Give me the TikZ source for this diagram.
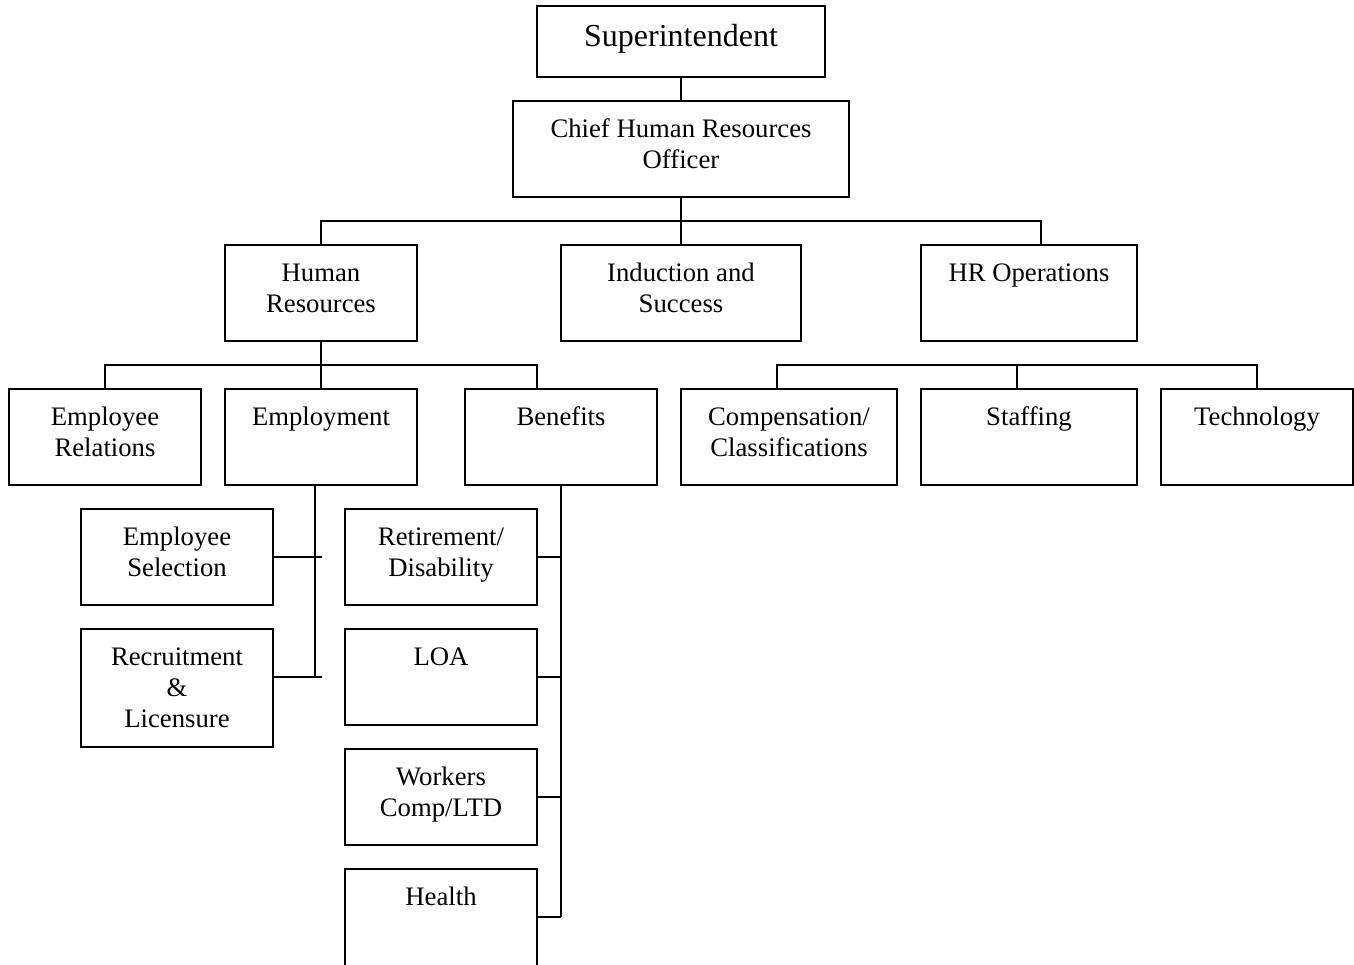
\documentclass[tikz,border=0pt]{standalone}
\usepackage{fontspec}
\setmainfont{Liberation Serif}
\begin{document}
\begin{tikzpicture}[x=1pt,y=-1pt,
  box/.style={draw,line width=1.3pt,anchor=north west,inner sep=0pt,outer sep=0pt},
  lbl/.style={anchor=base,inner sep=0pt,font=\fontsize{26.7}{31}\selectfont},
  con/.style={line width=1.3pt}]
\clip (0,0) rectangle (1354,964);
\useasboundingbox (0,0) rectangle (1354,964);
% boxes
\node[box,minimum width=288pt,minimum height=71pt] (sup) at (537,6) {};
\node[box,minimum width=336pt,minimum height=96pt] (cho) at (513,101) {};
\node[box,minimum width=192pt,minimum height=96pt] (hr) at (225,245) {};
\node[box,minimum width=240pt,minimum height=96pt] (ind) at (561,245) {};
\node[box,minimum width=216pt,minimum height=96pt] (hro) at (921,245) {};
\node[box,minimum width=192pt,minimum height=96pt] (er) at (9,389) {};
\node[box,minimum width=192pt,minimum height=96pt] (emp) at (225,389) {};
\node[box,minimum width=192pt,minimum height=96pt] (ben) at (465,389) {};
\node[box,minimum width=216pt,minimum height=96pt] (comp) at (681,389) {};
\node[box,minimum width=216pt,minimum height=96pt] (staff) at (921,389) {};
\node[box,minimum width=192pt,minimum height=96pt] (tech) at (1161,389) {};
\node[box,minimum width=192pt,minimum height=96pt] (es) at (81,509) {};
\node[box,minimum width=192pt,minimum height=118pt] (rl) at (81,629) {};
\node[box,minimum width=192pt,minimum height=96pt] (ret) at (345,509) {};
\node[box,minimum width=192pt,minimum height=96pt] (loa) at (345,629) {};
\node[box,minimum width=192pt,minimum height=96pt] (wc) at (345,749) {};
\node[box,minimum width=192pt,minimum height=140pt] (hl) at (345,869) {};
% labels
\node[lbl,font=\fontsize{32}{36}\selectfont] (sup-t) at ([yshift=-40.5pt]sup.north) {Superintendent};
\node[lbl] (cho-t) at ([yshift=-36pt]cho.north) {\begin{tabular}[t]{@{}c@{}}Chief Human Resources\\Officer\end{tabular}};
\node[lbl] (hr-t) at ([yshift=-36pt]hr.north) {\begin{tabular}[t]{@{}c@{}}Human\\Resources\end{tabular}};
\node[lbl] (ind-t) at ([yshift=-36pt]ind.north) {\begin{tabular}[t]{@{}c@{}}Induction and\\Success\end{tabular}};
\node[lbl] (hro-t) at ([yshift=-36pt]hro.north) {HR Operations};
\node[lbl] (er-t) at ([yshift=-36pt]er.north) {\begin{tabular}[t]{@{}c@{}}Employee\\Relations\end{tabular}};
\node[lbl] (emp-t) at ([yshift=-36pt]emp.north) {Employment};
\node[lbl] (ben-t) at ([yshift=-36pt]ben.north) {Benefits};
\node[lbl] (comp-t) at ([yshift=-36pt]comp.north) {\begin{tabular}[t]{@{}c@{}}Compensation/\\Classifications\end{tabular}};
\node[lbl] (staff-t) at ([yshift=-36pt]staff.north) {Staffing};
\node[lbl] (tech-t) at ([yshift=-36pt]tech.north) {Technology};
\node[lbl] (es-t) at ([yshift=-36pt]es.north) {\begin{tabular}[t]{@{}c@{}}Employee\\Selection\end{tabular}};
\node[lbl] (rl-t) at ([yshift=-36pt]rl.north) {\begin{tabular}[t]{@{}c@{}}Recruitment\\\&\\Licensure\end{tabular}};
\node[lbl] (ret-t) at ([yshift=-36pt]ret.north) {\begin{tabular}[t]{@{}c@{}}Retirement/\\Disability\end{tabular}};
\node[lbl] (loa-t) at ([yshift=-36pt]loa.north) {LOA};
\node[lbl] (wc-t) at ([yshift=-36pt]wc.north) {\begin{tabular}[t]{@{}c@{}}Workers\\Comp/LTD\end{tabular}};
\node[lbl] (hl-t) at ([yshift=-36pt]hl.north) {Health};
% connectors
\draw[con] (sup.south) -- (cho.north);
\coordinate (b1) at (681,221);
\draw[con] (cho.south) -- (b1);
\draw[con] (hr.north) |- (b1) -| ([xshift=120pt]hro.north west);
\draw[con] (b1) -- (ind.north);
\coordinate (b2) at (321,365);
\draw[con] (hr.south) -- (b2);
\draw[con] (er.north) |- (b2) -| ([xshift=72pt]ben.north west);
\draw[con] (b2) -- (emp.north);
\coordinate (b3) at (1017,365);
\draw[con] ([xshift=96pt]comp.north west) |- (b3) -| (tech.north);
\draw[con] (b3) -- ([xshift=96pt]staff.north west);
% employment branch
\coordinate (ev) at (315,485);
\coordinate (e1) at (322,557);
\coordinate (e2) at (322,677);
\draw[con] (ev) -- (315,677);
\draw[con] (es.east) -- (e1);
\draw[con] (rl.east |- e2) -- (e2);
% benefits branch
\coordinate (bv) at (561,485);
\coordinate (bb) at (561,917);
\draw[con] (bv) -- (bb);
\draw[con] (ret.east) -- (ret.east -| bb);
\draw[con] (loa.east |- 0,677) -- (561,677);
\draw[con] (wc.east |- 0,797) -- (561,797);
\draw[con] (hl.east |- 0,917) -- (bb);
\end{tikzpicture}
\end{document}
